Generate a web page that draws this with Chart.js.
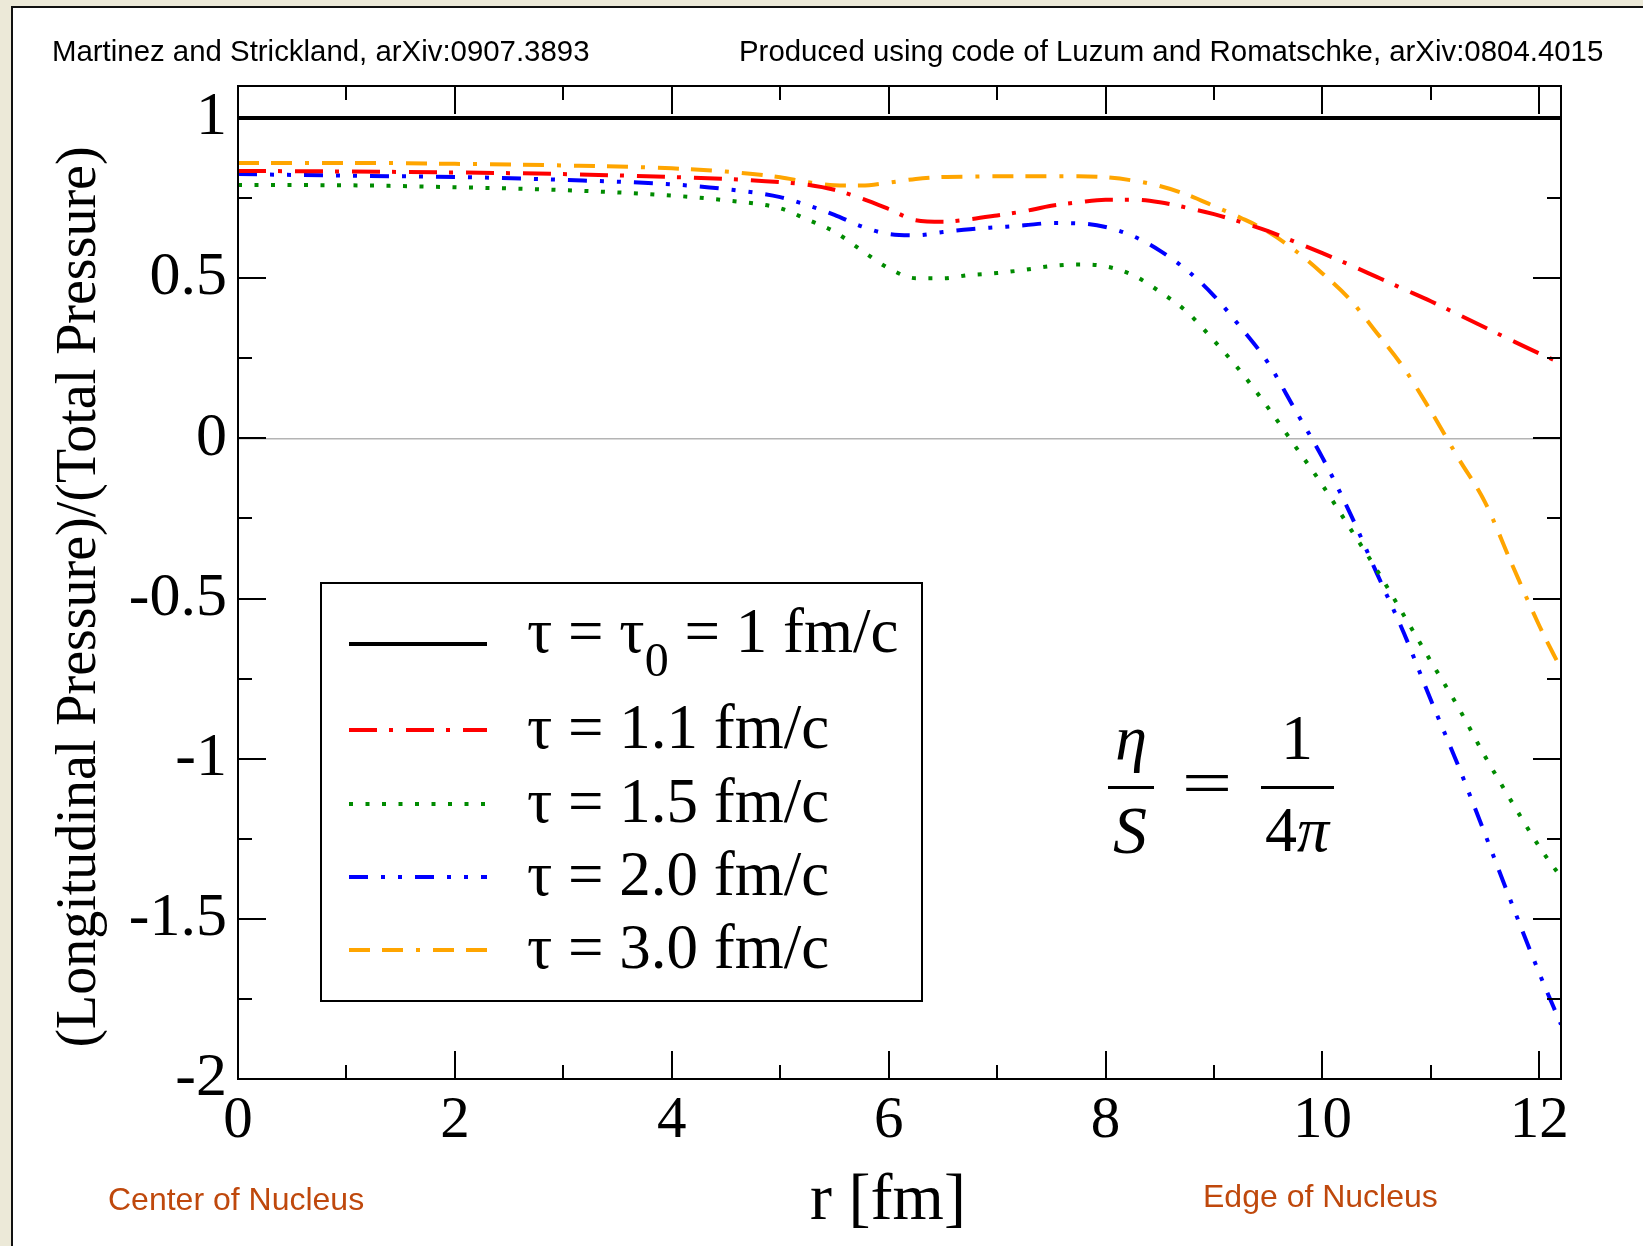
<!DOCTYPE html>
<html>
<head>
<meta charset="utf-8">
<title>Longitudinal / total pressure vs r</title>
<script src="https://cdn.jsdelivr.net/npm/chart.js@4.4.1/dist/chart.umd.min.js"></script>
<style>
  html, body { margin: 0; padding: 0; }
  body { width: 1643px; height: 1246px; background: #ece9d8; position: relative; overflow: hidden; }
  #sheet { position: absolute; left: 11px; top: 6px; right: 0; bottom: 0; background: #fff;
           border-left: 2px solid #111; border-top: 2px solid #111; }
  #plot { position: absolute; left: 0; top: 0; }
  .credit { position: absolute; top: 34px; line-height: 40px; font: 29.4px "Liberation Sans", Arial, sans-serif; color: #000; white-space: nowrap; }
  .where { position: absolute; line-height: 40px; font: 32px "Liberation Sans", Arial, sans-serif; color: #bf480c; white-space: nowrap; }
  .eq { position: absolute; font: 64px "Liberation Serif", "Times New Roman", serif; line-height: 64px; color: #000;
        transform: translateX(-50%); white-space: nowrap; }
  .bar { position: absolute; height: 3px; background: #000; }
</style>
</head>
<body>
<div id="sheet"></div>
<canvas id="plot" width="1643" height="1246"></canvas>

<div class="credit" style="left:52px">Martinez and Strickland, arXiv:0907.3893</div>
<div class="credit" style="left:739px">Produced using code of Luzum and Romatschke, arXiv:0804.4015</div>
<div class="where" style="left:108px; top:1181px">Center of Nucleus</div>
<div class="where" style="left:1203px; top:1178px">Edge of Nucleus</div>

<!-- eta / S = 1 / (4 pi) -->
<div class="eq" style="left:1131px; top:706px"><i>η</i></div>
<div class="bar" style="left:1108px; top:786px; width:46px"></div>
<div class="eq" style="left:1130px; top:798px; font-size:68px"><i>S</i></div>
<div class="eq" style="left:1207px; top:751px; transform: translateX(-50%) scaleX(1.4)">=</div>
<div class="eq" style="left:1297px; top:706px">1</div>
<div class="bar" style="left:1261px; top:786px; width:73px"></div>
<div class="eq" style="left:1297px; top:798px">4<i>π</i></div>

<script>
// radius grid [fm]
const rValues = [0, 1, 2, 3, 4, 4.5, 5, 5.25, 5.5, 5.75, 6, 6.25, 6.5, 6.75, 7, 7.25, 7.5, 7.75,
                 8, 8.25, 8.5, 8.75, 9, 9.25, 9.5, 9.75, 10, 10.25, 10.5, 10.75, 11, 11.25, 11.5, 11.75, 12, 12.2];

// P_L / P at each time slice
const rInitial = [0, 12.2];
const tau10 = [1, 1];
const tau11 = [0.835, 0.833, 0.83, 0.825, 0.816, 0.81, 0.80, 0.792, 0.776, 0.749, 0.716, 0.681, 0.676, 0.684, 0.696, 0.709, 0.726, 0.737,
               0.745, 0.745, 0.737, 0.72, 0.70, 0.675, 0.647, 0.613, 0.578, 0.542, 0.504, 0.466, 0.428, 0.387, 0.346, 0.305, 0.265, 0.235];
const tau15 = [0.791, 0.79, 0.784, 0.775, 0.758, 0.743, 0.718, 0.683, 0.645, 0.587, 0.531, 0.50, 0.50, 0.51, 0.516, 0.526, 0.538, 0.543,
               0.537, 0.51, 0.458, 0.395, 0.305, 0.207, 0.095, -0.025, -0.146, -0.278, -0.41, -0.552, -0.696, -0.838, -0.993, -1.137, -1.275, -1.37];
const tau20 = [0.825, 0.82, 0.816, 0.807, 0.793, 0.778, 0.753, 0.728, 0.698, 0.662, 0.638, 0.634, 0.644, 0.653, 0.659, 0.665, 0.672, 0.671,
               0.66, 0.632, 0.586, 0.525, 0.445, 0.345, 0.235, 0.088, -0.06, -0.23, -0.42, -0.607, -0.817, -1.02, -1.236, -1.456, -1.67, -1.83];
const tau30 = [0.86, 0.86, 0.857, 0.852, 0.843, 0.833, 0.815, 0.80, 0.79, 0.789, 0.798, 0.81, 0.816, 0.817, 0.818, 0.818, 0.818, 0.818,
               0.815, 0.805, 0.788, 0.761, 0.725, 0.688, 0.645, 0.586, 0.515, 0.435, 0.33, 0.22, 0.085, -0.06, -0.2, -0.395, -0.585, -0.72];

const seriesLabels = ['τ = τ_0 = 1 fm/c', 'τ = 1.1 fm/c', 'τ = 1.5 fm/c', 'τ = 2.0 fm/c', 'τ = 3.0 fm/c'];
const xTitle = 'r [fm]';
const yTitle = '(Longitudinal Pressure)/(Total Pressure)';

// axis ticks
const xMajorTicks = [0, 2, 4, 6, 8, 10, 12];
const xMinorTicks = [1, 3, 5, 7, 9, 11];
const yMajorTicks = [-2, -1.5, -1, -0.5, 0, 0.5, 1];
const yMinorTicks = [-1.75, -1.25, -0.75, -0.25, 0.25, 0.75];

const SERIF = '"Liberation Serif", "Times New Roman", serif';

function points(xs, ys) {
    return xs.map((x, i) => ({ x: x, y: ys[i] }));
}

// xmgrace-like box: full frame plus inward ticks on all four sides
const frameTicks = {
    id: 'frameTicks',
    afterDatasetsDraw(chart) {
        const { ctx, chartArea: a, scales: { x, y } } = chart;
        ctx.save();
        ctx.strokeStyle = '#000';
        ctx.lineWidth = 2;
        ctx.setLineDash([]);
        ctx.strokeRect(a.left, a.top, a.right - a.left, a.bottom - a.top);
        ctx.beginPath();
        const xt = (vals, len) => vals.forEach(v => {
            const px = Math.round(x.getPixelForValue(v));
            ctx.moveTo(px, a.bottom); ctx.lineTo(px, a.bottom - len);
            ctx.moveTo(px, a.top); ctx.lineTo(px, a.top + len);
        });
        const yt = (vals, len) => vals.forEach(v => {
            const py = Math.round(y.getPixelForValue(v));
            ctx.moveTo(a.left, py); ctx.lineTo(a.left + len, py);
            ctx.moveTo(a.right, py); ctx.lineTo(a.right - len, py);
        });
        xt(xMajorTicks, 28); xt(xMinorTicks, 14);
        yt(yMajorTicks, 28); yt(yMinorTicks, 14);
        ctx.stroke();
        ctx.restore();
    }
};

// axis titles, placed a little off the plot-centre like the grace output
const axisTitles = {
    id: 'axisTitles',
    afterDraw(chart) {
        const ctx = chart.ctx;
        ctx.save();
        ctx.fillStyle = '#000';
        ctx.textAlign = 'center';
        ctx.textBaseline = 'middle';
        ctx.font = '66px ' + SERIF;
        ctx.fillText(xTitle, 888, 1202);
        ctx.translate(80, 597);
        ctx.rotate(-Math.PI / 2);
        ctx.font = '56px ' + SERIF;
        ctx.fillText(yTitle, 0, 0);
        ctx.restore();
    }
};

// boxed legend with line samples taken from the datasets
const boxLegend = {
    id: 'boxLegend',
    afterDraw(chart) {
        const ctx = chart.ctx;
        const rows = [644, 730, 804, 877, 950];
        ctx.save();
        ctx.fillStyle = '#fff';
        ctx.fillRect(321, 583, 601, 418);
        ctx.strokeStyle = '#000';
        ctx.lineWidth = 2;
        ctx.strokeRect(321, 583, 601, 418);
        chart.data.datasets.forEach((ds, i) => {
            const yRow = rows[i];
            ctx.beginPath();
            ctx.setLineDash(ds.borderDash || []);
            ctx.lineCap = 'butt';
            ctx.lineWidth = ds.borderWidth;
            ctx.strokeStyle = ds.borderColor;
            ctx.moveTo(349, yRow);
            ctx.lineTo(487, yRow);
            ctx.stroke();
            ctx.setLineDash([]);

            ctx.fillStyle = '#000';
            ctx.textBaseline = 'middle';
            ctx.textAlign = 'left';
            const parts = ds.label.split(/_(\d)/);
            const yText = parts.length > 1 ? yRow - 9 : yRow + 1;
            let xText = 527;
            parts.forEach((p, k) => {
                if (k % 2 === 1) {
                    ctx.font = '48px ' + SERIF;
                    ctx.fillText(p, xText, yText + 28);
                } else {
                    ctx.font = '63px ' + SERIF;
                    ctx.fillText(p, xText, yText);
                }
                xText += ctx.measureText(p).width;
            });
        });
        ctx.restore();
    }
};

const common = { pointRadius: 0, borderWidth: 4, borderCapStyle: 'butt', fill: false, cubicInterpolationMode: 'monotone' };

new Chart(document.getElementById('plot'), {
    type: 'line',
    data: {
        datasets: [
            { ...common, label: seriesLabels[0], data: points(rInitial, tau10), borderColor: '#000000', borderDash: [] },
            { ...common, label: seriesLabels[1], data: points(rValues, tau11), borderColor: '#ff0000', borderDash: [28, 12, 4, 13] },
            { ...common, label: seriesLabels[2], data: points(rValues, tau15), borderColor: '#008b00', borderDash: [4, 12.5] },
            { ...common, label: seriesLabels[3], data: points(rValues, tau20), borderColor: '#0000ff', borderDash: [19, 13, 4, 13, 4, 13] },
            { ...common, label: seriesLabels[4], data: points(rValues, tau30), borderColor: '#ffa500', borderDash: [21, 12, 21, 13, 4, 13] }
        ]
    },
    options: {
        responsive: false,
        animation: false,
        devicePixelRatio: 1,
        layout: { padding: { top: 86, right: 82, bottom: 0, left: 0 } },
        plugins: { legend: { display: false }, tooltip: { enabled: false } },
        scales: {
            x: {
                type: 'linear',
                position: 'bottom',
                min: 0,
                max: 12.2,
                afterBuildTicks: s => { s.ticks = xMajorTicks.map(v => ({ value: v })); },
                afterFit: s => { s.height = 167; },
                ticks: { color: '#000', font: { family: SERIF, size: 59 }, padding: 7, maxRotation: 0, callback: v => String(v) },
                grid: { display: false, drawTicks: false },
                border: { display: false }
            },
            y: {
                type: 'linear',
                min: -2,
                max: 1.1,
                afterBuildTicks: s => { s.ticks = yMajorTicks.map(v => ({ value: v })); },
                afterFit: s => { s.width = 238; },
                ticks: { color: '#000', font: { family: SERIF, size: 62 }, padding: 11, callback: v => String(v) },
                grid: {
                    drawTicks: false,
                    lineWidth: 1.5,
                    color: c => (c.tick && c.tick.value === 0 ? '#b4b4b4' : 'rgba(0,0,0,0)')
                },
                border: { display: false }
            }
        }
    },
    plugins: [frameTicks, axisTitles, boxLegend]
});
</script>
</body>
</html>
